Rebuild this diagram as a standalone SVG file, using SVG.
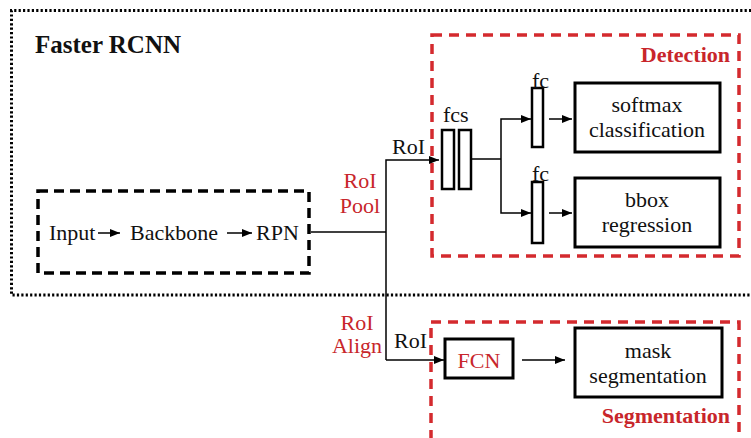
<svg xmlns="http://www.w3.org/2000/svg" width="751" height="438" viewBox="0 0 751 438">
<defs>
<marker id="ah" viewBox="0 0 10 8" refX="10" refY="4" markerWidth="10" markerHeight="8" markerUnits="userSpaceOnUse" orient="auto"><path d="M0,0 L10,4 L0,8 Z" fill="#000"/></marker>
<style>
text{font-family:"Liberation Serif",serif;font-size:22px;fill:#111}
.t{font-size:25px;font-weight:bold}
.b{font-weight:bold}
.red{fill:#c8262b}
.mid{text-anchor:middle}
.end{text-anchor:end}
.box{fill:#fff;stroke:#000;stroke-width:3}
.bar{fill:#fff;stroke:#000;stroke-width:2.5}
.rdash{fill:none;stroke:#d42a2e;stroke-width:3.5;stroke-dasharray:10 7}
.conn{fill:none;stroke:#000;stroke-width:1.5}
</style>
</defs>
<rect width="751" height="438" fill="#fff"/>
<g id="faster-rcnn">
<path d="M760,10.5 H11.5 V295 H760" fill="none" stroke="#000" stroke-width="3" stroke-dasharray="2.2 2.2"/>
<text class="t" x="35" y="53">Faster RCNN</text>
</g>
<g id="backbone">
<rect x="38" y="191" width="271" height="82" fill="none" stroke="#000" stroke-width="3.5" stroke-dasharray="10 6"/>
<text x="49" y="240">Input</text>
<text x="130" y="240">Backbone</text>
<text x="256" y="240">RPN</text>
</g>
<g id="detection">
<rect class="rdash" x="432" y="35" width="307" height="221"/>
<text class="b red end" x="730" y="62">Detection</text>
</g>
<g id="fcs">
<rect class="bar" x="442" y="130" width="12" height="59"/>
<rect class="bar" x="459" y="130" width="12" height="59"/>
<text x="443" y="122">fcs</text>
</g>
<g id="fc-top">
<rect class="bar" x="532" y="88" width="11" height="59"/>
<text x="532" y="88">fc</text>
</g>
<g id="fc-bottom">
<rect class="bar" x="532" y="182" width="11" height="61"/>
<text x="532" y="181">fc</text>
</g>
<g id="softmax">
<rect class="box" x="575" y="83" width="145" height="69"/>
<text class="mid" x="647" y="112">softmax</text>
<text class="mid" x="647" y="137">classification</text>
</g>
<g id="bbox">
<rect class="box" x="575" y="178" width="145" height="69"/>
<text class="mid" x="647" y="207">bbox</text>
<text class="mid" x="647" y="232">regression</text>
</g>
<g id="segmentation">
<rect class="rdash" x="431" y="322" width="308" height="125"/>
<text class="b red end" x="730" y="423">Segmentation</text>
</g>
<g id="fcn">
<rect class="box" x="445" y="339" width="68" height="39"/>
<text class="red mid" x="479" y="368">FCN</text>
</g>
<g id="mask">
<rect class="box" x="575" y="328" width="147" height="69"/>
<text class="mid" x="648" y="358">mask</text>
<text class="mid" x="648" y="383">segmentation</text>
</g>
<g id="labels">
<text class="red mid" x="360" y="188">RoI</text>
<text class="red mid" x="360" y="213">Pool</text>
<text x="392" y="154">RoI</text>
<text class="red mid" x="357" y="330">RoI</text>
<text class="red mid" x="357" y="353">Align</text>
<text x="394" y="348">RoI</text>
</g>
<g id="connectors">
<line class="conn" x1="98" y1="233" x2="120" y2="233" marker-end="url(#ah)"/>
<line class="conn" x1="227" y1="233" x2="252" y2="233" marker-end="url(#ah)"/>
<path class="conn" d="M311,232 H386"/>
<path class="conn" d="M386,360 V160 H439" marker-end="url(#ah)"/>
<path class="conn" d="M386,360 H444" marker-end="url(#ah)"/>
<path class="conn" d="M471,159 H501"/>
<path class="conn" d="M501,159 V119 H531" marker-end="url(#ah)"/>
<path class="conn" d="M501,159 V213 H531" marker-end="url(#ah)"/>
<line class="conn" x1="549" y1="119" x2="572" y2="119" marker-end="url(#ah)"/>
<line class="conn" x1="549" y1="213" x2="572" y2="213" marker-end="url(#ah)"/>
<line class="conn" x1="522" y1="360" x2="565" y2="360" marker-end="url(#ah)"/>
</g>
</svg>
